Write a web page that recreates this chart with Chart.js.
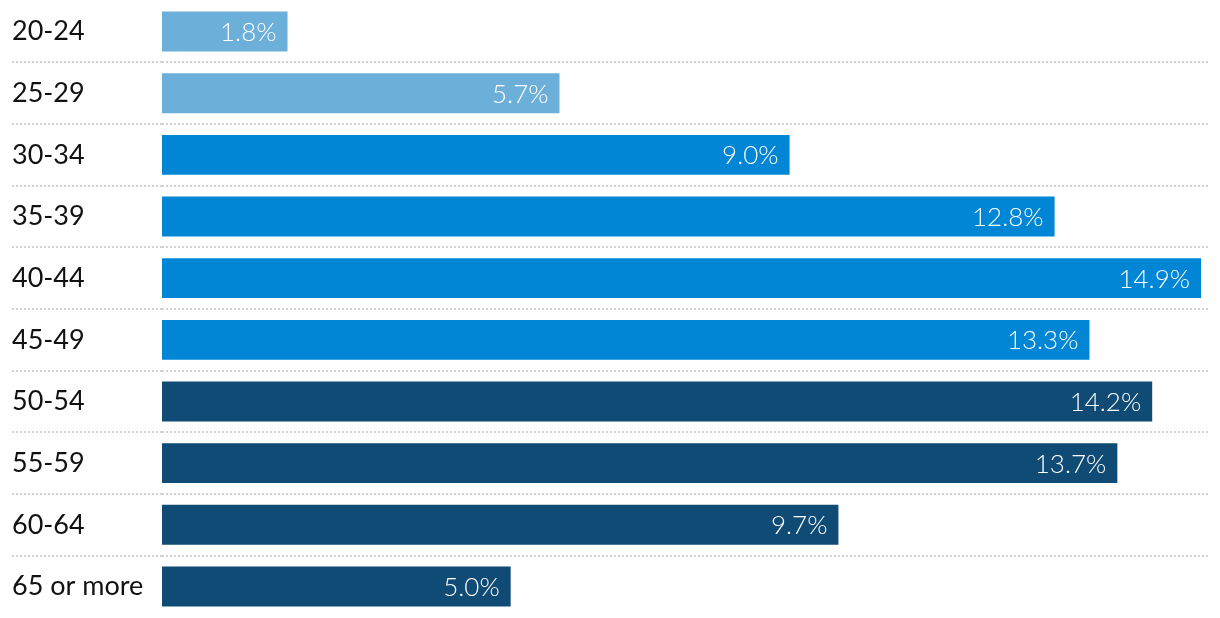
<!DOCTYPE html>
<html>
<head>
<meta charset="utf-8">
<script src="https://cdn.jsdelivr.net/npm/chart.js@4/dist/chart.umd.min.js"></script>
<style>
	html, body { margin: 0; padding: 0; background: #fff; }
	#wrap { position: relative; width: 1220px; height: 618px; }
</style>
</head>
<body>
<div id="wrap"><canvas id="ageChart"></canvas></div>
<script>
// age groups and share of workers in each
const ageGroups = ['20-24', '25-29', '30-34', '35-39', '40-44', '45-49', '50-54', '55-59', '60-64', '65 or more'];
const shares = [1.8, 5.7, 9.0, 12.8, 14.9, 13.3, 14.2, 13.7, 9.7, 5.0];
const barColors = ['#6cb0da', '#6cb0da', '#0086d4', '#0086d4', '#0086d4', '#0086d4', '#0f4b75', '#0f4b75', '#0f4b75', '#0f4b75'];

const FONT = 'Lato, "Open Sans", sans-serif';

// white value labels at the end of each bar
const valueLabels = {
	id: 'valueLabels',
	afterDatasetsDraw(chart) {
		const ctx = chart.ctx;
		const meta = chart.getDatasetMeta(0);
		ctx.save();
		ctx.fillStyle = '#fff';
		ctx.font = '300 26px ' + FONT;
		ctx.textAlign = 'right';
		ctx.textBaseline = 'middle';
		meta.data.forEach((bar, i) => {
			ctx.fillText(shares[i].toFixed(1) + '%', bar.x - 11, bar.y + 1);
		});
		ctx.restore();
	}
};

new Chart(document.getElementById('ageChart'), {
	type: 'bar',
	data: {
		labels: ageGroups,
		datasets: [{
			data: shares,
			backgroundColor: barColors,
			barPercentage: 40 / 61.8,
			categoryPercentage: 1
		}]
	},
	options: {
		indexAxis: 'y',
		responsive: true,
		maintainAspectRatio: false,
		animation: false,
		layout: { padding: { left: 12, right: 12, top: 0, bottom: 0 } },
		plugins: {
			legend: { display: false },
			tooltip: { enabled: false }
		},
		scales: {
			x: {
				display: false,
				min: 0,
				max: 15
			},
			y: {
				afterFit: (scale) => { scale.width = 150; },
				border: { display: false, dash: [2, 2] },
				grid: {
					offset: true,
					lineWidth: 2,
					tickLength: 150,
					tickBorderDash: [2, 2],
					color: (c) => (c.type !== 'tick' || c.index === 0) ? 'transparent' : '#d2d2d2'
				},
				ticks: {
					crossAlign: 'far',
					padding: 0,
					color: '#111',
					font: { family: FONT, size: 27, lineHeight: 0.05 }
				}
			}
		}
	},
	plugins: [valueLabels]
});
</script>
</body>
</html>
